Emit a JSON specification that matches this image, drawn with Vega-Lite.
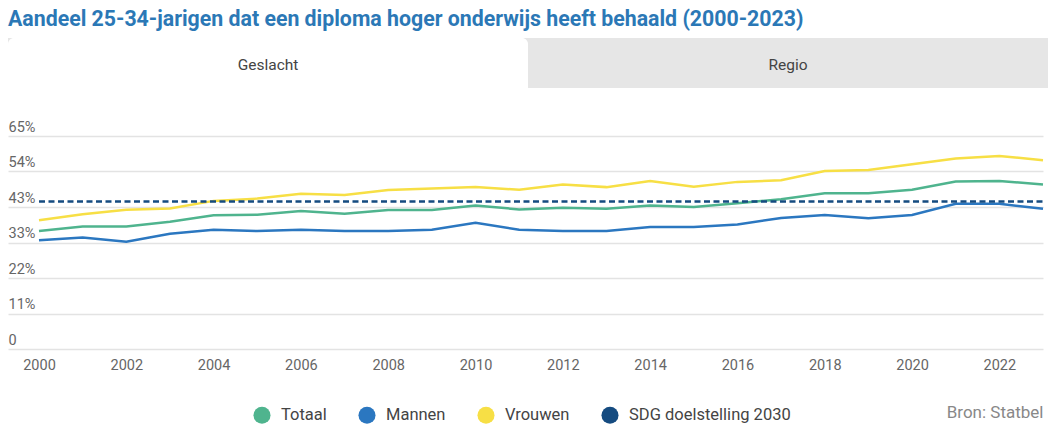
{
  "$schema": "https://vega.github.io/schema/vega-lite/v6.json",
  "padding": {"left": 8, "top": 8, "right": 0, "bottom": 0},
  "background": "white",
  "title": {"text": "Aandeel 25-34-jarigen dat een diploma hoger onderwijs heeft behaald (2000-2023)", "anchor": "start", "frame": "group", "font": "Roboto", "fontSize": 21.3, "fontWeight": "bold", "color": "#2b78b6", "offset": 8},
  "spacing": 31,
  "config": {"view": {"stroke": null}, "font": "Roboto"},
  "resolve": {"legend": {"color": "independent"}},
  "datasets": {
    "tabs": [
      {"tab": "Geslacht", "actief": "ja"},
      {"tab": "Regio", "actief": "nee"}
    ],
    "reeks": [
      {"jaar": 2000, "groep": "Totaal", "waarde": 36.0},
      {"jaar": 2001, "groep": "Totaal", "waarde": 37.4},
      {"jaar": 2002, "groep": "Totaal", "waarde": 37.4},
      {"jaar": 2003, "groep": "Totaal", "waarde": 38.8},
      {"jaar": 2004, "groep": "Totaal", "waarde": 40.8},
      {"jaar": 2005, "groep": "Totaal", "waarde": 41.0},
      {"jaar": 2006, "groep": "Totaal", "waarde": 42.1},
      {"jaar": 2007, "groep": "Totaal", "waarde": 41.3},
      {"jaar": 2008, "groep": "Totaal", "waarde": 42.4},
      {"jaar": 2009, "groep": "Totaal", "waarde": 42.4},
      {"jaar": 2010, "groep": "Totaal", "waarde": 43.8},
      {"jaar": 2011, "groep": "Totaal", "waarde": 42.6},
      {"jaar": 2012, "groep": "Totaal", "waarde": 43.1},
      {"jaar": 2013, "groep": "Totaal", "waarde": 42.8},
      {"jaar": 2014, "groep": "Totaal", "waarde": 43.8},
      {"jaar": 2015, "groep": "Totaal", "waarde": 43.3},
      {"jaar": 2016, "groep": "Totaal", "waarde": 44.5},
      {"jaar": 2017, "groep": "Totaal", "waarde": 45.7},
      {"jaar": 2018, "groep": "Totaal", "waarde": 47.5},
      {"jaar": 2019, "groep": "Totaal", "waarde": 47.5},
      {"jaar": 2020, "groep": "Totaal", "waarde": 48.6},
      {"jaar": 2021, "groep": "Totaal", "waarde": 51.1},
      {"jaar": 2022, "groep": "Totaal", "waarde": 51.3},
      {"jaar": 2023, "groep": "Totaal", "waarde": 50.2},
      {"jaar": 2000, "groep": "Mannen", "waarde": 33.2},
      {"jaar": 2001, "groep": "Mannen", "waarde": 34.0},
      {"jaar": 2002, "groep": "Mannen", "waarde": 32.7},
      {"jaar": 2003, "groep": "Mannen", "waarde": 35.2},
      {"jaar": 2004, "groep": "Mannen", "waarde": 36.4},
      {"jaar": 2005, "groep": "Mannen", "waarde": 36.0},
      {"jaar": 2006, "groep": "Mannen", "waarde": 36.4},
      {"jaar": 2007, "groep": "Mannen", "waarde": 36.0},
      {"jaar": 2008, "groep": "Mannen", "waarde": 36.0},
      {"jaar": 2009, "groep": "Mannen", "waarde": 36.4},
      {"jaar": 2010, "groep": "Mannen", "waarde": 38.5},
      {"jaar": 2011, "groep": "Mannen", "waarde": 36.4},
      {"jaar": 2012, "groep": "Mannen", "waarde": 36.0},
      {"jaar": 2013, "groep": "Mannen", "waarde": 36.0},
      {"jaar": 2014, "groep": "Mannen", "waarde": 37.2},
      {"jaar": 2015, "groep": "Mannen", "waarde": 37.2},
      {"jaar": 2016, "groep": "Mannen", "waarde": 38.0},
      {"jaar": 2017, "groep": "Mannen", "waarde": 40.0},
      {"jaar": 2018, "groep": "Mannen", "waarde": 40.9},
      {"jaar": 2019, "groep": "Mannen", "waarde": 39.9},
      {"jaar": 2020, "groep": "Mannen", "waarde": 40.9},
      {"jaar": 2021, "groep": "Mannen", "waarde": 44.3},
      {"jaar": 2022, "groep": "Mannen", "waarde": 44.3},
      {"jaar": 2023, "groep": "Mannen", "waarde": 42.8},
      {"jaar": 2000, "groep": "Vrouwen", "waarde": 39.3},
      {"jaar": 2001, "groep": "Vrouwen", "waarde": 41.1},
      {"jaar": 2002, "groep": "Vrouwen", "waarde": 42.5},
      {"jaar": 2003, "groep": "Vrouwen", "waarde": 42.9},
      {"jaar": 2004, "groep": "Vrouwen", "waarde": 45.2},
      {"jaar": 2005, "groep": "Vrouwen", "waarde": 45.9},
      {"jaar": 2006, "groep": "Vrouwen", "waarde": 47.4},
      {"jaar": 2007, "groep": "Vrouwen", "waarde": 47.0},
      {"jaar": 2008, "groep": "Vrouwen", "waarde": 48.5},
      {"jaar": 2009, "groep": "Vrouwen", "waarde": 49.0},
      {"jaar": 2010, "groep": "Vrouwen", "waarde": 49.4},
      {"jaar": 2011, "groep": "Vrouwen", "waarde": 48.6},
      {"jaar": 2012, "groep": "Vrouwen", "waarde": 50.2},
      {"jaar": 2013, "groep": "Vrouwen", "waarde": 49.4},
      {"jaar": 2014, "groep": "Vrouwen", "waarde": 51.3},
      {"jaar": 2015, "groep": "Vrouwen", "waarde": 49.5},
      {"jaar": 2016, "groep": "Vrouwen", "waarde": 51.0},
      {"jaar": 2017, "groep": "Vrouwen", "waarde": 51.5},
      {"jaar": 2018, "groep": "Vrouwen", "waarde": 54.3},
      {"jaar": 2019, "groep": "Vrouwen", "waarde": 54.6},
      {"jaar": 2020, "groep": "Vrouwen", "waarde": 56.4},
      {"jaar": 2021, "groep": "Vrouwen", "waarde": 58.1},
      {"jaar": 2022, "groep": "Vrouwen", "waarde": 58.9},
      {"jaar": 2023, "groep": "Vrouwen", "waarde": 57.6},
      {"jaar": 2000, "groep": "SDG doelstelling 2030", "waarde": 45},
      {"jaar": 2023, "groep": "SDG doelstelling 2030", "waarde": 45}
    ]
  },
  "vconcat": [
    {
      "width": 1040,
      "height": 50,
      "data": {"name": "tabs"},
      "view": {"fill": "#e6e6e6", "stroke": null},
      "layer": [
        {
          "mark": {"type": "bar", "cornerRadiusTopLeft": 6, "cornerRadiusTopRight": 6},
          "encoding": {
            "x": {"field": "tab", "type": "nominal", "sort": null, "axis": null, "scale": {"paddingInner": 0, "paddingOuter": 0}},
            "fill": {"field": "actief", "type": "nominal", "scale": {"domain": ["ja", "nee"], "range": ["#ffffff", "#e6e6e6"]}, "legend": null}
          }
        },
        {
          "mark": {"type": "text", "fontSize": 15.5, "color": "#444444", "font": "Roboto", "dy": 2},
          "encoding": {
            "x": {"field": "tab", "type": "nominal", "sort": null, "axis": null},
            "text": {"field": "tab"}
          }
        }
      ]
    },
    {
      "width": 1035,
      "height": 213,
      "data": {"name": "reeks"},
      "encoding": {
        "x": {
          "field": "jaar", "type": "quantitative",
          "scale": {"domain": [1999.29, 2023], "nice": false, "zero": false},
          "axis": {
            "values": [2000, 2002, 2004, 2006, 2008, 2010, 2012, 2014, 2016, 2018, 2020, 2022],
            "format": "d", "title": "Bron: Statbel", "titleAnchor": "end", "titleAlign": "right",
            "titleFontWeight": "normal", "titleFontSize": 17, "titleColor": "#888888", "titlePadding": 33,
            "titleFont": "Roboto",
            "labelFontSize": 14.5, "labelColor": "#666666", "labelPadding": 9, "labelFont": "Roboto",
            "ticks": false, "domain": false, "grid": false, "labelFlush": false
          }
        },
        "y": {
          "field": "waarde", "type": "quantitative",
          "scale": {"domain": [0, 65], "nice": false},
          "axis": {
            "values": [0, 10.8333333, 21.6666667, 32.5, 43.3333333, 54.1666667, 65],
            "labelExpr": "datum.value == 0 ? '0' : format(datum.value, '.0f') + '%'",
            "title": null, "domain": false, "ticks": false, "tickSize": 0,
            "labelAlign": "left", "labelBaseline": "alphabetic", "labelPadding": 0, "labelOffset": -5,
            "labelColor": "#666666", "labelFontSize": 14.5, "labelFont": "Roboto", "labelFlush": false,
            "gridColor": "#e3e3e3", "gridWidth": 1.5
          }
        },
        "color": {
          "field": "groep", "type": "nominal",
          "scale": {"domain": ["Totaal", "Mannen", "Vrouwen", "SDG doelstelling 2030"], "range": ["#4fb48e", "#2b77c0", "#f7df45", "#154b80"]},
          "legend": {
            "title": null, "orient": "none", "legendX": 245, "legendY": 270, "direction": "horizontal",
            "symbolType": "circle", "symbolSize": 290, "symbolStrokeWidth": 0, "symbolOpacity": 1,
            "labelFontSize": 16.5, "labelColor": "#444444", "labelFont": "Roboto", "labelOffset": 10,
            "labelLimit": 400, "columnPadding": 31, "padding": 0,
            "encode": {"symbols": {"update": {"fill": {"scale": "color", "field": "value"}}}}
          }
        }
      },
      "layer": [
        {
          "transform": [{"filter": "datum.groep != 'SDG doelstelling 2030'"}],
          "mark": {"type": "line", "strokeWidth": 2.5}
        },
        {
          "transform": [{"filter": "datum.groep == 'SDG doelstelling 2030'"}],
          "mark": {"type": "line", "strokeWidth": 2.5, "strokeDash": [6, 3.5]}
        }
      ]
    }
  ]
}
